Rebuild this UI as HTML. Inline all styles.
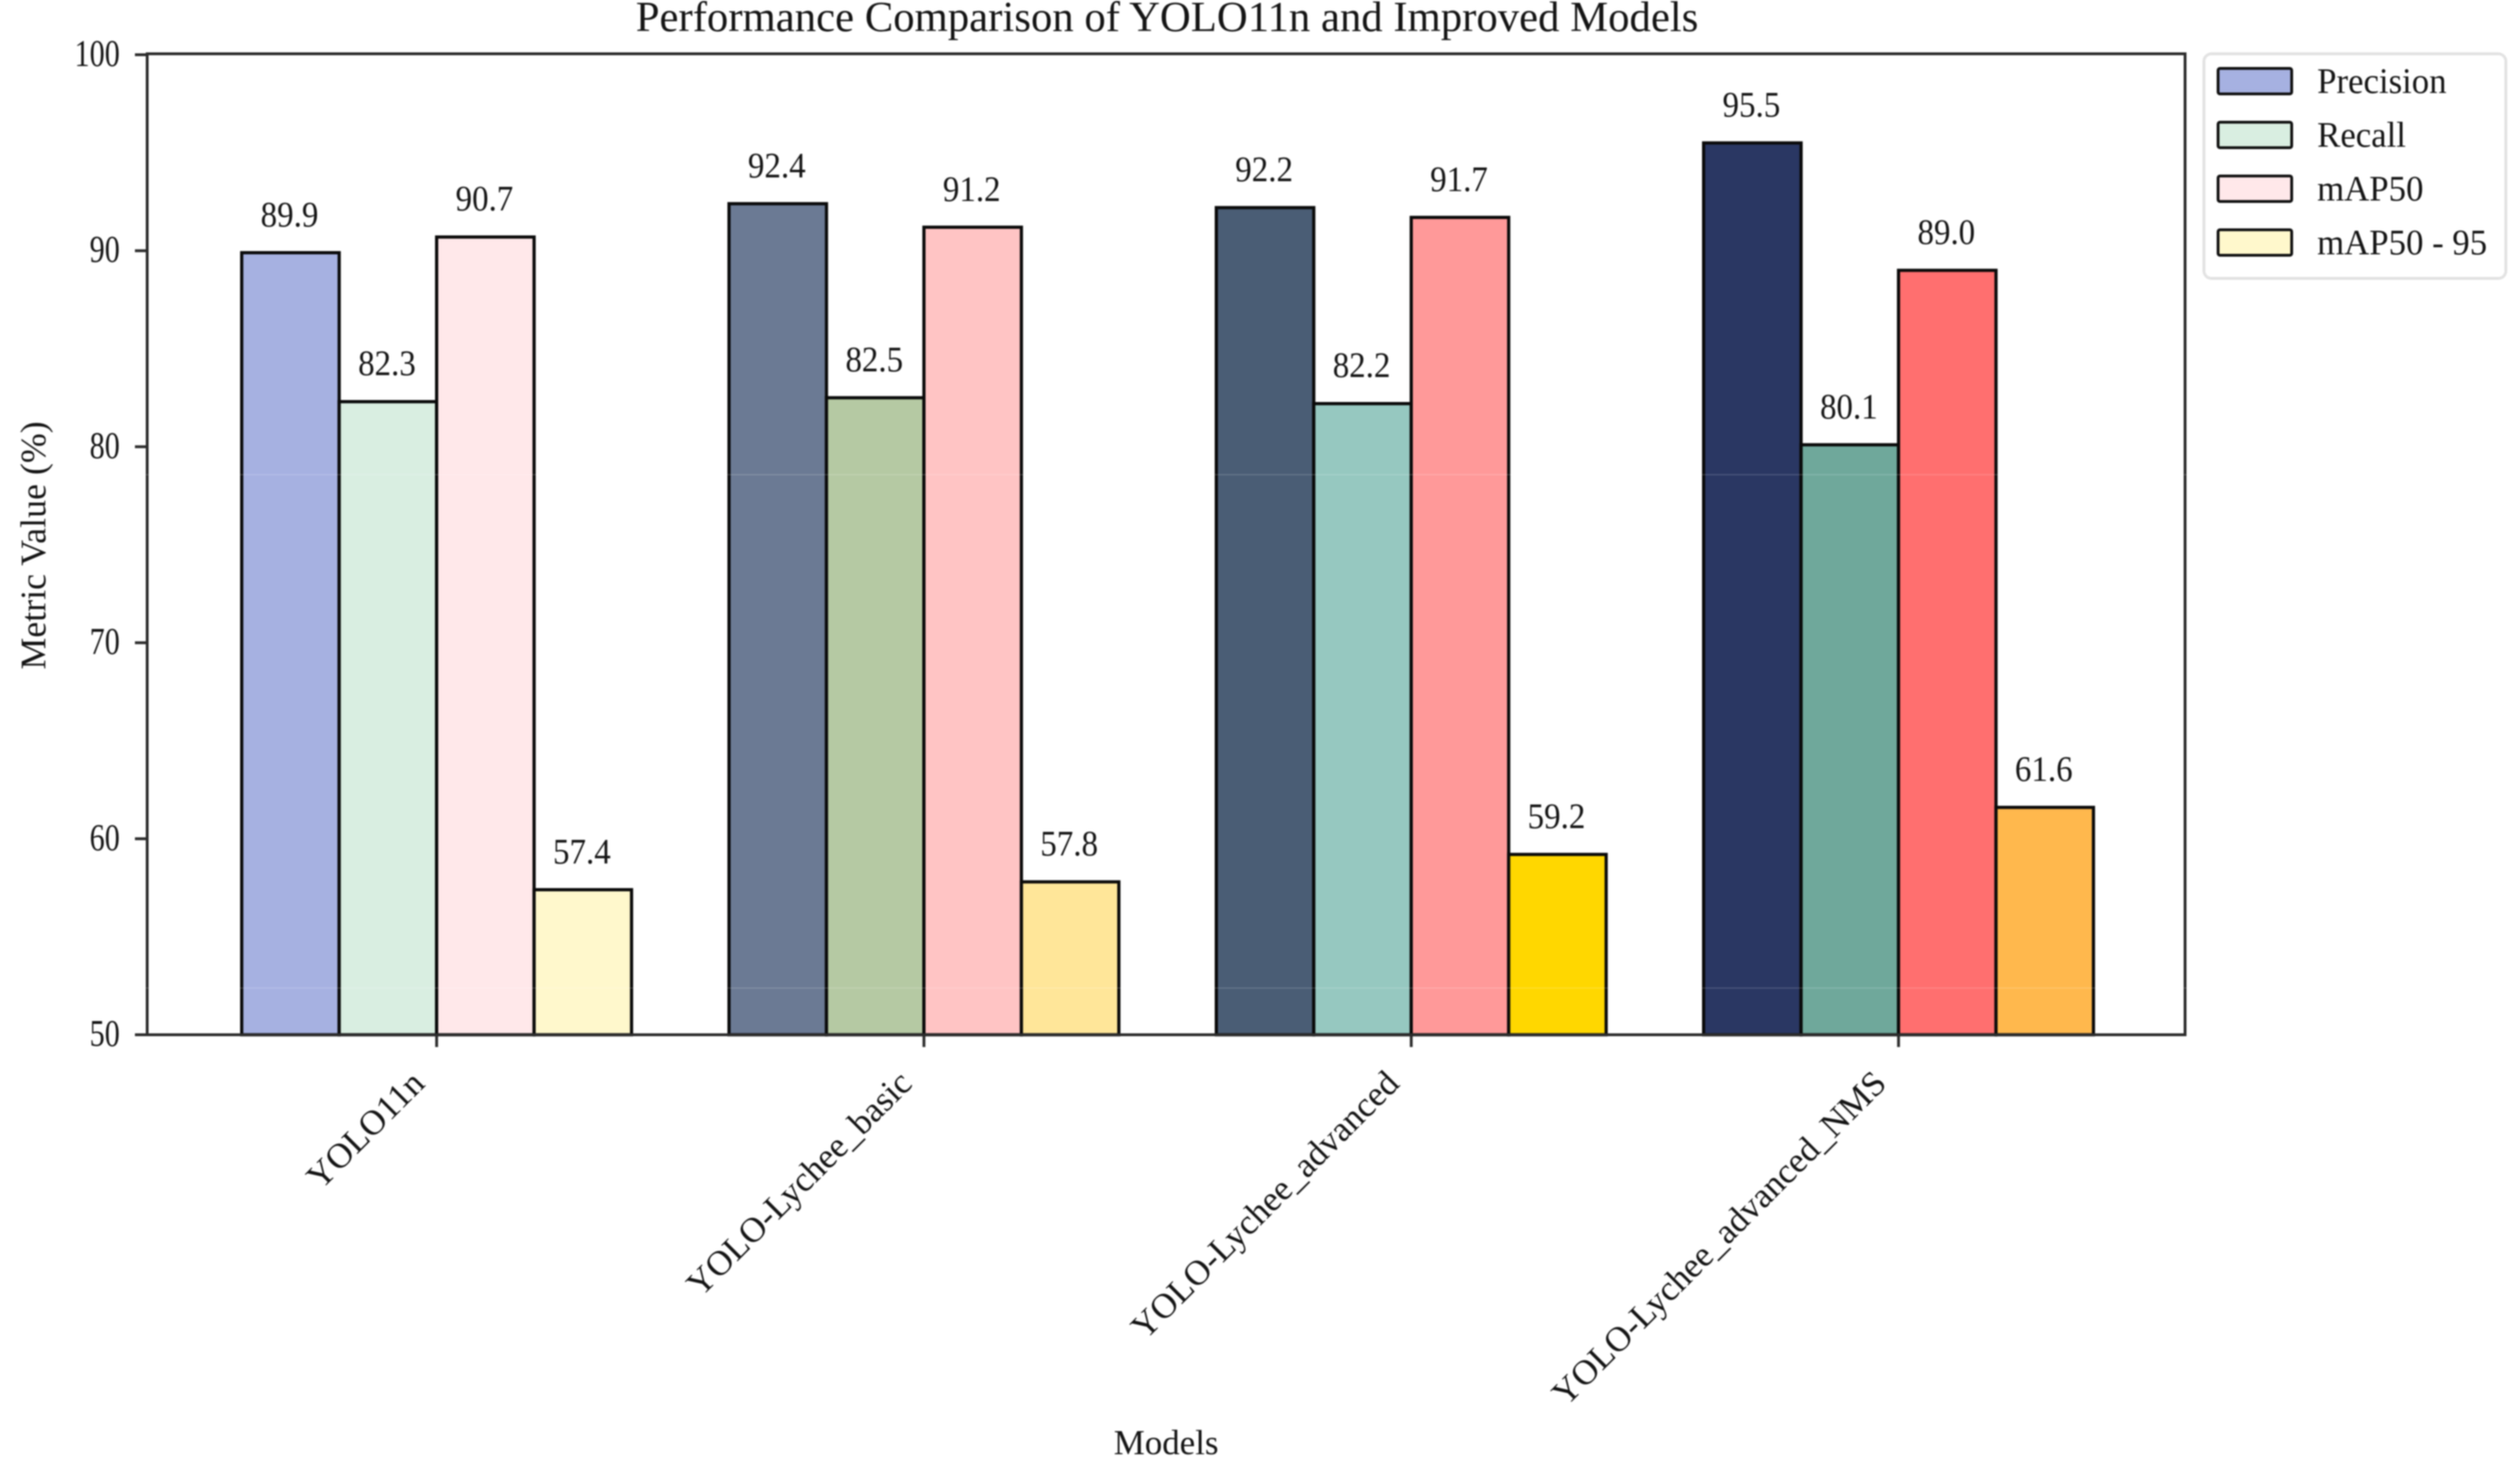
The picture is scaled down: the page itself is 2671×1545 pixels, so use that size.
<!DOCTYPE html>
<html lang="en">
<head>
<meta charset="utf-8">
<title>Performance Comparison of YOLO11n and Improved Models</title>
<style>
html,body{margin:0;padding:0;background:#fff;width:2671px;height:1545px;overflow:hidden}
svg{display:block;filter:blur(0.9px)}
text{font-family:"Liberation Serif","Times New Roman",serif;fill:#141414}
</style>
</head>
<body>
<svg id="chart" xmlns="http://www.w3.org/2000/svg" width="2671" height="1545" viewBox="0 0 2671 1545">
  <rect x="0" y="0" width="2671" height="1545" fill="#ffffff"/>
  <text x="1237" y="33" font-size="45.3" text-anchor="middle">Performance Comparison of YOLO11n and Improved Models</text>
  <text transform="translate(48,578) rotate(-90)" font-size="38" text-anchor="middle">Metric Value (%)</text>
  <text x="1236" y="1541" font-size="37" text-anchor="middle">Models</text>
  <g id="bars"></g>
  <g id="labels"></g>
  <g id="axes"></g>
  <g id="legend"></g>
  <line x1="0" x2="2671" y1="503" y2="503" stroke="#ffffff" stroke-opacity="0.2" stroke-width="1"/>
  <line x1="0" x2="2671" y1="1047" y2="1047" stroke="#ffffff" stroke-opacity="0.2" stroke-width="1"/>
</svg>
<script>
const categories = ["YOLO11n", "YOLO-Lychee_basic", "YOLO-Lychee_advanced", "YOLO-Lychee_advanced_NMS"];
const seriesNames = ["Precision", "Recall", "mAP50", "mAP50 - 95"];
const precision = [89.9, 92.4, 92.2, 95.5];
const recall = [82.3, 82.5, 82.2, 80.1];
const map50 = [90.7, 91.2, 91.7, 89.0];
const map5095 = [57.4, 57.8, 59.2, 61.6];
const yTicks = [50, 60, 70, 80, 90, 100];

const seriesValues = [precision, recall, map50, map5095];
const palette = [
  ["#a6b1e1", "#d9eee1", "#ffe8ea", "#fff8cc"],
  ["#6b7a94", "#b5c9a3", "#ffc4c4", "#ffe699"],
  ["#4a5d75", "#96c8c0", "#ff9999", "#ffd700"],
  ["#2a3763", "#6fa89b", "#ff6f6f", "#ffb84d"]
];

const NS = "http://www.w3.org/2000/svg";
const plot = { left: 156, right: 2316, top: 58, bottom: 1096.5, frameTop: 57 };
const groupStep = 516.5, groupOrigin = 462.8, barWidthUnits = 0.2;

function xScale(u) { return groupOrigin + u * groupStep; }
function yScale(v) { return plot.bottom - (v - 50) / 50 * (plot.bottom - plot.top); }

function node(tag, parent) {
  const el = document.createElementNS(NS, tag);
  parent.appendChild(el);
  return el;
}
function label(parent, str, x, y, size, sx, anchor) {
  const t = node("text", parent);
  t.textContent = str;
  t.setAttribute("transform", "translate(" + x + "," + y + ") scale(" + sx + ",1)");
  t.setAttribute("font-size", size);
  t.setAttribute("text-anchor", anchor);
  return t;
}

const barsLayer = document.getElementById("bars");
const labelsLayer = document.getElementById("labels");
const axesLayer = document.getElementById("axes");
const legendLayer = document.getElementById("legend");

categories.forEach(function (cat, g) {
  seriesValues.forEach(function (vals, s) {
    const v = vals[g];
    const x0 = xScale(g + (s - 2) * barWidthUnits);
    const x1 = xScale(g + (s - 1) * barWidthUnits);
    const bar = node("rect", barsLayer);
    
    
    bar.setAttribute("x", x0);
    bar.setAttribute("y", yScale(v));
    bar.setAttribute("width", x1 - x0);
    bar.setAttribute("height", yScale(50) - yScale(v));
    bar.setAttribute("fill", palette[g][s]);
    bar.setAttribute("stroke", "#0a0a0a");
    bar.setAttribute("stroke-width", "3.4");
    const val = label(labelsLayer, v.toFixed(1), (x0 + x1) / 2 - 1, yScale(v) - 28, 38, 0.92, "middle");
    
    
  });
});

const frame = node("rect", axesLayer);


frame.setAttribute("x", plot.left);
frame.setAttribute("y", plot.frameTop);
frame.setAttribute("width", plot.right - plot.left);
frame.setAttribute("height", plot.bottom - plot.frameTop);
frame.setAttribute("fill", "none");
frame.setAttribute("stroke", "#2b2b2b");
frame.setAttribute("stroke-width", "3");

yTicks.forEach(function (t) {
  const y = yScale(t);
  const tick = node("line", axesLayer);
  
  
  tick.setAttribute("x1", plot.left - 13);
  tick.setAttribute("x2", plot.left);
  tick.setAttribute("y1", y);
  tick.setAttribute("y2", y);
  tick.setAttribute("stroke", "#2b2b2b");
  tick.setAttribute("stroke-width", "3");
  const lab = label(axesLayer, String(t), 127, y + 12, 40, 0.8, "end");
  
  
});

categories.forEach(function (cat, g) {
  const x = xScale(g);
  const tick = node("line", axesLayer);
  
  
  tick.setAttribute("x1", x);
  tick.setAttribute("x2", x);
  tick.setAttribute("y1", plot.bottom);
  tick.setAttribute("y2", plot.bottom + 13);
  tick.setAttribute("stroke", "#2b2b2b");
  tick.setAttribute("stroke-width", "3");
  const t = node("text", axesLayer);
  t.textContent = cat;
  
  
  t.setAttribute("transform", "translate(" + (x - 11) + ",1150) rotate(-45)");
  t.setAttribute("font-size", "37.3");
  t.setAttribute("text-anchor", "end");
});

const box = node("rect", legendLayer);


box.setAttribute("x", 2336);
box.setAttribute("y", 57);
box.setAttribute("width", 320);
box.setAttribute("height", 238);
box.setAttribute("rx", 8);
box.setAttribute("fill", "#ffffff");
box.setAttribute("stroke", "#e2e2e2");
box.setAttribute("stroke-width", "3");

seriesNames.forEach(function (name, s) {
  const top = 72.5 + s * 57;
  const sw = node("rect", legendLayer);
  
  
  sw.setAttribute("x", 2351);
  sw.setAttribute("y", top);
  sw.setAttribute("width", 78);
  sw.setAttribute("height", 27);
  sw.setAttribute("rx", 2);
  sw.setAttribute("fill", palette[0][s]);
  sw.setAttribute("stroke", "#111111");
  sw.setAttribute("stroke-width", "3");
  const t = label(legendLayer, name, 2456, top + 26, 38, 0.97, "start");
  
  
});
</script>
</body>
</html>
